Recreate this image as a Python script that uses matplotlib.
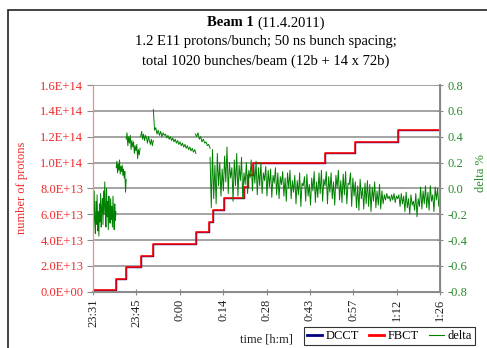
import numpy as np
import matplotlib
matplotlib.use("Agg")
import matplotlib.pyplot as plt
from matplotlib.patches import Rectangle

plt.rcParams['font.family'] = ['Liberation Serif', 'DejaVu Serif']

# time in minutes after 23:31
tick_labels = ['23:31', '23:45', '0:00', '0:14', '0:28', '0:43', '0:57', '1:12', '1:26']
t_end = 115.0

# intensity steps (injection times and number of protons after each one)
fbct_t = [0, 7.6, 11.0, 15.8, 19.8, 34.1, 38.6, 39.7, 43.5, 50.2, 51.5, 53.1, 77.0, 86.8, 101.0, 115.0]
fbct_n = [0.14e13, 0.98e13, 1.91e13, 2.79e13, 3.72e13, 4.60e13, 5.42e13, 6.32e13, 7.23e13,
          8.13e13, 9.03e13, 9.94e13, 10.76e13, 11.61e13, 12.49e13, 12.49e13]
dcct_t = fbct_t
dcct_n = fbct_n

left_ticks = ['0.0E+00', '2.0E+13', '4.0E+13', '6.0E+13', '8.0E+13',
              '1.0E+14', '1.2E+14', '1.4E+14', '1.6E+14']
right_ticks = ['-0.8', '-0.6', '-0.4', '-0.2', '0.0', '0.2', '0.4', '0.6', '0.8']

# delta % between the two, recorded in pieces (start, end, samples)
delta_segs = [
    (0.0, 7.6, [-0.12, -0.30, -0.02, -0.25, -0.35, -0.10, -0.28, -0.05, -0.33, -0.18,
                -0.37, -0.12, -0.26, -0.04, -0.30, -0.15, -0.08, -0.28, -0.02, -0.20,
                0.05, -0.15, -0.30, 0.00, -0.22, -0.10, -0.32, -0.06, -0.18, -0.27,
                -0.08, -0.24, -0.14, -0.30, -0.06, -0.22, -0.32, -0.12, -0.25, -0.18]),
    (7.7, 11.0, [0.16, 0.21, 0.12, 0.19, 0.14, 0.22, 0.11, 0.17, 0.13, 0.18, 0.10, 0.15,
                 0.08, 0.13, -0.03, 0.07]),
    (11.0, 15.6, [0.38, 0.43, 0.33, 0.40, 0.35, 0.41, 0.30, 0.37, 0.32, 0.36, 0.27, 0.33,
                  0.29, 0.34, 0.23, 0.30, 0.26, 0.31]),
    (15.8, 20.0, [0.40, 0.44, 0.38, 0.42, 0.37, 0.41, 0.39, 0.35, 0.40, 0.37, 0.34, 0.38,
                  0.33, 0.37]),
    (20.0, 34.1, [0.61, 0.45, 0.47, 0.42, 0.45, 0.41, 0.44, 0.40, 0.43, 0.41, 0.42, 0.39,
                  0.41, 0.38, 0.40, 0.37, 0.39, 0.36, 0.38, 0.35, 0.37, 0.34, 0.36, 0.33,
                  0.35, 0.32, 0.34, 0.31, 0.33, 0.30, 0.32, 0.29, 0.31, 0.28, 0.30, 0.27]),
    (33.9, 38.8, [0.42, 0.40, 0.43, 0.38, 0.40, 0.36, 0.38, 0.35, 0.36, 0.33, 0.34, 0.31]),
    (38.8, 115.0, [
        0.24, -0.15, 0.30, -0.08, 0.18, -0.12, 0.27, 0.02, 0.20, -0.06,
        0.15, -0.02, 0.25, 0.05, 0.32, -0.04, 0.20, 0.08, 0.16, -0.10,
        0.22, 0.02, 0.27, -0.06, 0.18, 0.06, 0.24, -0.08, 0.12, 0.03,
        0.20, -0.04, 0.14, 0.08, 0.22, -0.02, 0.18, 0.04, 0.21, -0.05,
        0.16, 0.02, 0.20, -0.04, 0.12, 0.06, 0.17, -0.06, 0.14, 0.01,
        0.15, -0.07, 0.10, 0.04, 0.16, -0.05, 0.12, -0.08, 0.09, 0.03,
        0.13, -0.06, 0.08, -0.10, 0.12, 0.00, 0.14, -0.08, 0.06, -0.03,
        0.10, -0.12, 0.06, -0.05, 0.12, -0.14, 0.04, 0.02, 0.09, -0.10,
        0.11, -0.06, 0.03, -0.13, 0.08, -0.02, 0.13, -0.11, 0.05, -0.07,
        0.12, -0.04, 0.14, -0.10, 0.07, 0.02, 0.13, -0.12, 0.09, -0.03,
        0.12, -0.08, 0.05, -0.13, 0.10, 0.00, 0.14, -0.09, 0.06, -0.11,
        0.11, -0.05, 0.13, -0.12, 0.04, 0.03, 0.12, -0.14, 0.08, -0.06,
        0.05, -0.15, 0.02, -0.17, 0.07, -0.08, 0.00, -0.16, 0.04, -0.12,
        0.06, -0.14, 0.03, -0.18, 0.01, -0.10, 0.05, -0.15, -0.02, -0.13,
        0.03, -0.16, -0.02, -0.12, -0.05, -0.09, -0.04, -0.08, -0.06, -0.10,
        -0.05, -0.09, -0.04, -0.11, -0.06, -0.08, -0.05, -0.14, -0.04, -0.12,
        -0.06, -0.18, -0.03, -0.15, -0.08, -0.20, -0.05, -0.13, -0.10, -0.17,
        -0.04, -0.22, -0.08, -0.14, 0.01, -0.16, -0.02, -0.12, 0.02, -0.15,
        -0.03, -0.17, 0.02, -0.10, -0.05, -0.18, 0.01, -0.09, 0.00, -0.14, -0.06]),
]

# join the pieces with gaps
dt, dv = [], []
for t0, t1, vals in delta_segs:
    dt += list(np.linspace(t0, t1, len(vals))) + [np.nan]
    dv += vals + [np.nan]

RED = '#ff0000'
GREEN = '#008000'
NAVY = '#000080'
GRID = '#8a8a8a'

fig = plt.figure(figsize=(4.87, 3.48), dpi=100)
ax = fig.add_axes([93 / 487, 1 - 291.7 / 348, (440 - 93) / 487, (291.7 - 85) / 348])
ax2 = ax.twinx()

l1, = ax.plot(dcct_t, dcct_n, color=NAVY, lw=1.0, drawstyle='steps-post', zorder=2)
l2, = ax.plot(fbct_t, fbct_n, color=RED, lw=1.15, drawstyle='steps-post', zorder=3)
l3, = ax2.plot(dt, dv, color=GREEN, lw=0.7, zorder=2)

# the delta trace sits above the intensity steps, grid below both
ax.set_zorder(1)
ax2.set_zorder(2)
ax2.patch.set_visible(False)

ax.set_xlim(0, t_end)
ax.set_ylim(0, 1.6e14)
ax2.set_ylim(-0.8, 0.8)

ax.set_xticks(np.linspace(0, t_end, len(tick_labels)))
ax.set_xticklabels(tick_labels, rotation=90, fontsize=9, color='#222222')
yt = np.linspace(0, 1.6e14, len(left_ticks))
ax.set_yticks(yt)
ax.set_yticklabels(left_ticks, fontsize=9, color='#ee2a2a')
ax2.set_yticks(np.linspace(-0.8, 0.8, len(right_ticks)))
ax2.set_yticklabels(right_ticks, fontsize=9, color='#2a8a2a')

for v in yt[1:]:
    ax.axhline(v, color=GRID, lw=1.1, zorder=0)

ax.spines['top'].set_visible(False)
ax2.spines['top'].set_visible(False)
ax.spines['left'].set_color('#f28a8a')
ax2.spines['left'].set_color('#f28a8a')
ax.spines['bottom'].set_color(GRID)
ax2.spines['bottom'].set_color(GRID)
ax2.spines['right'].set_color(GRID)
ax2.spines['right'].set_linewidth(1.4)
ax.spines['bottom'].set_linewidth(1.4)
ax.tick_params(axis='y', color=GRID, length=4, pad=3)
ax.tick_params(axis='x', color=GRID, length=4, direction='inout', pad=3)
ax2.tick_params(axis='y', color=GRID, length=5, direction='inout', pad=3)

# titles and axis labels
fig.text(254 / 487, 1 - 23 / 348, 'Beam 1', ha='right', va='center', fontsize=10.5, fontweight='bold')
fig.text(257 / 487, 1 - 23 / 348, '(11.4.2011)', ha='left', va='center', fontsize=10.5)
fig.text(266 / 487, 1 - 42 / 348, '1.2 E11 protons/bunch; 50 ns bunch spacing;', ha='center', va='center', fontsize=10.5)
fig.text(266 / 487, 1 - 61 / 348, 'total 1020 bunches/beam (12b + 14 x 72b)', ha='center', va='center', fontsize=10.5)
fig.text(22 / 487, 1 - 188 / 348, 'number of protons', rotation=90, ha='center', va='center', fontsize=9, color='#ee2a2a')
fig.text(481 / 487, 1 - 173 / 348, 'delta %', rotation=90, ha='center', va='center', fontsize=9, color='#2a8a2a')
fig.text(266 / 487, 1 - 340 / 348, 'time [h:m]', ha='center', va='center', fontsize=9, color='#222222')

leg = fig.legend([l1, l2, l3], ['DCCT', 'FBCT', 'delta'], loc='lower right',
                 bbox_to_anchor=(475 / 487, 1 - 345 / 348), ncol=3, fontsize=9,
                 frameon=True, fancybox=False, handlelength=1.2, handletextpad=0.3,
                 columnspacing=0.8, borderpad=0.25, borderaxespad=0)
leg.get_frame().set_edgecolor('#000000')
leg.get_frame().set_linewidth(0.8)
leg.get_lines()[0].set_linewidth(2.0)
leg.get_lines()[1].set_linewidth(2.0)
leg.get_lines()[2].set_linewidth(0.8)

# chart frame
fig.patches.append(Rectangle((8 / 487, -0.1), 1.2, 1.1 - 10 / 348, transform=fig.transFigure,
                             fill=False, edgecolor='#222222', lw=1.2))

fig.savefig('out.png', dpi=100)
